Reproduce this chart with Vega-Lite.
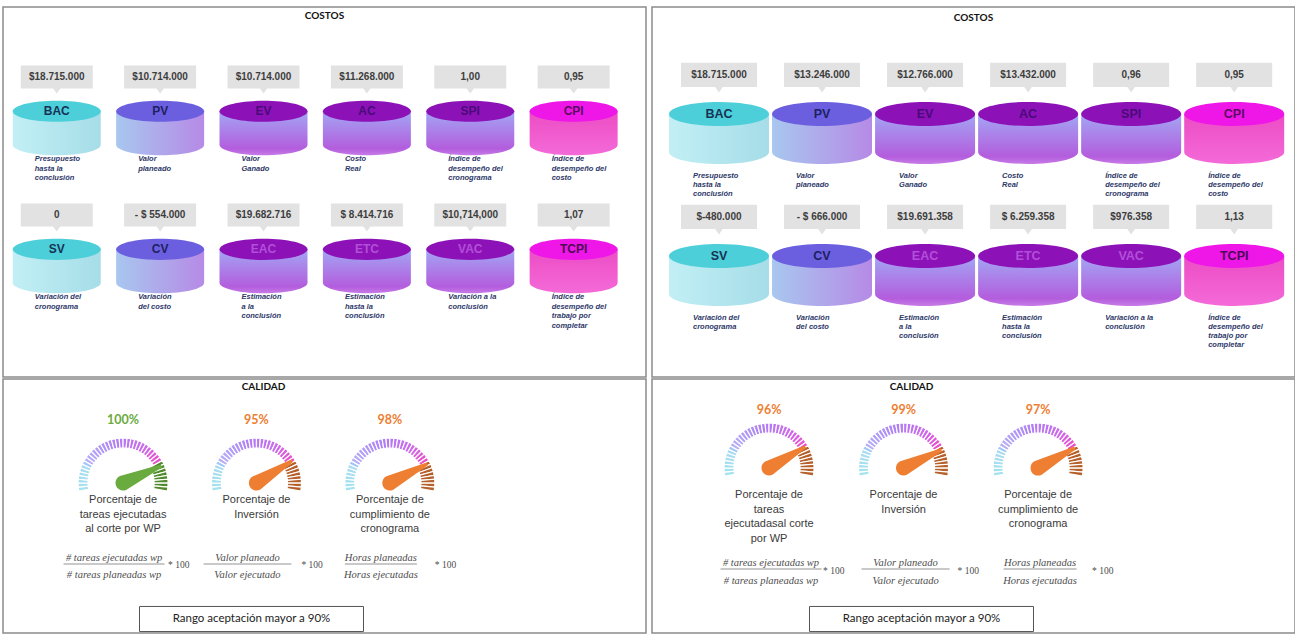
{
"$schema":"https://vega.github.io/schema/vega-lite/v6.json",
"background":"white",
"padding":{"left":2,"right":3,"top":6,"bottom":4},
"config":{"view":{"stroke":"#8c8c8c","strokeWidth":1.5}},
"datasets":{
"costosIzq":[
{"codigo":"BAC","fila":1,"col":1,"valor":"$18.715.000","desc":"Presupuesto\nhasta la\nconclusión"},
{"codigo":"PV","fila":1,"col":2,"valor":"$10.714.000","desc":"Valor\nplaneado"},
{"codigo":"EV","fila":1,"col":3,"valor":"$10.714.000","desc":"Valor\nGanado"},
{"codigo":"AC","fila":1,"col":4,"valor":"$11.268.000","desc":"Costo\nReal"},
{"codigo":"SPI","fila":1,"col":5,"valor":"1,00","desc":"Índice de\ndesempeño del\ncronograma"},
{"codigo":"CPI","fila":1,"col":6,"valor":"0,95","desc":"Índice de\ndesempeño del\ncosto"},
{"codigo":"SV","fila":2,"col":1,"valor":"0","desc":"Variación del\ncronograma"},
{"codigo":"CV","fila":2,"col":2,"valor":"- $ 554.000","desc":"Variación\ndel costo"},
{"codigo":"EAC","fila":2,"col":3,"valor":"$19.682.716","desc":"Estimación\na la\nconclusión"},
{"codigo":"ETC","fila":2,"col":4,"valor":"$ 8.414.716","desc":"Estimación\nhasta la\nconclusión"},
{"codigo":"VAC","fila":2,"col":5,"valor":"$10,714,000","desc":"Variación a la\nconclusión"},
{"codigo":"TCPI","fila":2,"col":6,"valor":"1,07","desc":"Índice de\ndesempeño del\ntrabajo por\ncompletar"}],
"costosDer":[
{"codigo":"BAC","fila":1,"col":1,"valor":"$18.715.000","desc":"Presupuesto\nhasta la\nconclusión"},
{"codigo":"PV","fila":1,"col":2,"valor":"$13.246.000","desc":"Valor\nplaneado"},
{"codigo":"EV","fila":1,"col":3,"valor":"$12.766.000","desc":"Valor\nGanado"},
{"codigo":"AC","fila":1,"col":4,"valor":"$13.432.000","desc":"Costo\nReal"},
{"codigo":"SPI","fila":1,"col":5,"valor":"0,96","desc":"Índice de\ndesempeño del\ncronograma"},
{"codigo":"CPI","fila":1,"col":6,"valor":"0,95","desc":"Índice de\ndesempeño del\ncosto"},
{"codigo":"SV","fila":2,"col":1,"valor":"$-480.000","desc":"Variación del\ncronograma"},
{"codigo":"CV","fila":2,"col":2,"valor":"- $ 666.000","desc":"Variación\ndel costo"},
{"codigo":"EAC","fila":2,"col":3,"valor":"$19.691.358","desc":"Estimación\na la\nconclusión"},
{"codigo":"ETC","fila":2,"col":4,"valor":"$ 6.259.358","desc":"Estimación\nhasta la\nconclusión"},
{"codigo":"VAC","fila":2,"col":5,"valor":"$976.358","desc":"Variación a la\nconclusión"},
{"codigo":"TCPI","fila":2,"col":6,"valor":"1,13","desc":"Índice de\ndesempeño del\ntrabajo por\ncompletar"}],
"calidadIzq":[
{"g":1,"pct":1.00,"nombre":"Porcentaje de\ntareas ejecutadas\nal corte por WP","num":"# tareas ejecutadas wp","den":"# tareas planeadas wp"},
{"g":2,"pct":0.95,"nombre":"Porcentaje de\nInversión","num":"Valor planeado","den":"Valor ejecutado"},
{"g":3,"pct":0.98,"nombre":"Porcentaje de\ncumplimiento de\ncronograma","num":"Horas planeadas","den":"Horas ejecutadas"}],
"calidadDer":[
{"g":1,"pct":0.96,"nombre":"Porcentaje de\ntareas\nejecutadasal corte\npor WP","num":"# tareas ejecutadas wp","den":"# tareas planeadas wp"},
{"g":2,"pct":0.99,"nombre":"Porcentaje de\nInversión","num":"Valor planeado","den":"Valor ejecutado"},
{"g":3,"pct":0.97,"nombre":"Porcentaje de\ncumplimiento de\ncronograma","num":"Horas planeadas","den":"Horas ejecutadas"}],
"marcas":[{"k":0},{"k":1},{"k":2},{"k":3},{"k":4},{"k":5},{"k":6},{"k":7},{"k":8},{"k":9},{"k":10},{"k":11},{"k":12},{"k":13},{"k":14},{"k":15},{"k":16},{"k":17},{"k":18},{"k":19},{"k":20},{"k":21},{"k":22},{"k":23},{"k":24},{"k":25},{"k":26},{"k":27},{"k":28},{"k":29},{"k":30},{"k":31},{"k":32},{"k":33},{"k":34},{"k":35},{"k":36},{"k":37},{"k":38},{"k":39}]
},
"spacing":4,
"resolve":{"scale":{"color":"independent","fill":"independent","size":"independent","angle":"independent","theta":"independent"}},
"hconcat":[
{"spacing":0,
 "resolve":{"scale":{"color":"independent","fill":"independent","size":"independent","angle":"independent","theta":"independent"}},
 "vconcat":[
 {"width":643,"height":370,
  "layer":[
   {"data":{"values":[{"titulo":"COSTOS"}]},"mark":{"type":"text","font":"Lato","fontWeight":"bold","fontSize":10,"fill":"#111111","dy":-176},"encoding":{"text":{"field":"titulo","type":"nominal"}}},
   {"data":{"name":"costosIzq"},
    "encoding":{"x":{"field":"col","type":"quantitative","scale":{"domain":[0.48,6.7],"nice":false,"zero":false},"axis":null},
                "y":{"field":"fila","type":"quantitative","scale":{"domain":[0.123,2.804],"nice":false,"zero":false,"reverse":true},"axis":null}},
    "layer":[
     {"mark":{"type":"point","shape":"M-1,-0.32 L1,-0.32 L1,0.32 L0.1,0.32 L0,0.46 L-0.1,0.32 L-1,0.32 Z","size":5184,"filled":true,"fill":"#e2e2e2","opacity":1,"strokeWidth":0,"yOffset":-51}},
     {"mark":{"type":"text","font":"Liberation Sans","fontWeight":"bold","fontSize":10,"fill":"#3d3d3d","baseline":"middle","dy":-51},"encoding":{"text":{"field":"valor","type":"nominal"}}},
     {"transform":[{"filter":{"field":"codigo","oneOf":["BAC","SV"]}}],"mark":{"type":"point","shape":"M-1,-0.38 L-1,0.38 A1,0.24 0 0 0 1,0.38 L1,-0.38 Z","size":7744,"filled":true,"opacity":1,"strokeWidth":0,"fill":{"gradient":"linear","x1":0,"y1":0,"x2":1,"y2":0,"stops":[{"offset":0,"color":"#c2eff5"},{"offset":1,"color":"#a6dde8"}]}}},
     {"transform":[{"filter":{"field":"codigo","oneOf":["PV","CV"]}}],"mark":{"type":"point","shape":"M-1,-0.38 L-1,0.38 A1,0.24 0 0 0 1,0.38 L1,-0.38 Z","size":7744,"filled":true,"opacity":1,"strokeWidth":0,"fill":{"gradient":"linear","x1":0,"y1":0,"x2":1,"y2":0,"stops":[{"offset":0,"color":"#a8c7ef"},{"offset":1,"color":"#b68ae6"}]}}},
     {"transform":[{"filter":{"field":"codigo","oneOf":["EV","AC","SPI","EAC","ETC","VAC"]}}],"mark":{"type":"point","shape":"M-1,-0.38 L-1,0.38 A1,0.24 0 0 0 1,0.38 L1,-0.38 Z","size":7744,"filled":true,"opacity":1,"strokeWidth":0,"fill":{"gradient":"linear","x1":0,"y1":0,"x2":0,"y2":1,"stops":[{"offset":0,"color":"#a3a6f4"},{"offset":0.85,"color":"#b35ddd"},{"offset":1,"color":"#c77be6"}]}}},
     {"transform":[{"filter":{"field":"codigo","oneOf":["CPI","TCPI"]}}],"mark":{"type":"point","shape":"M-1,-0.38 L-1,0.38 A1,0.24 0 0 0 1,0.38 L1,-0.38 Z","size":7744,"filled":true,"opacity":1,"strokeWidth":0,"fill":{"gradient":"linear","x1":0,"y1":0,"x2":0,"y2":1,"stops":[{"offset":0,"color":"#ec4cc4"},{"offset":1,"color":"#f46ad8"}]}}},
     {"mark":{"type":"point","shape":"M-1,-0.38 A1,0.24 0 1 1 1,-0.38 A1,0.24 0 1 1 -1,-0.38 Z","size":7744,"filled":true,"opacity":1,"strokeWidth":0},
      "encoding":{"fill":{"field":"codigo","type":"nominal","scale":{"domain":["BAC","PV","EV","AC","SPI","CPI","SV","CV","EAC","ETC","VAC","TCPI"],"range":["#4ccfd8","#6b5fe0","#8c12b8","#8c12b8","#8c12b8","#ef16e8","#4ccfd8","#6b5fe0","#8c12b8","#8c12b8","#8c12b8","#ef16e8"]},"legend":null}}},
     {"mark":{"type":"text","font":"Liberation Sans","fontWeight":"bold","fontSize":12,"baseline":"middle","dy":-17},
      "encoding":{"text":{"field":"codigo","type":"nominal"},"color":{"field":"codigo","type":"nominal","scale":{"domain":["BAC","PV","EV","AC","SPI","CPI","SV","CV","EAC","ETC","VAC","TCPI"],"range":["#173257","#1d2160","#4a0a78","#4a0a78","#4a0a78","#5c0b62","#173257","#1d2160","#b24fd8","#b24fd8","#b24fd8","#4d0a55"]},"legend":null}}},
     {"mark":{"type":"text","font":"Liberation Sans","fontWeight":"bold","fontStyle":"italic","fontSize":7.5,"fill":"#2d3868","align":"left","baseline":"top","dx":-22,"dy":27,"lineBreak":"\n","lineHeight":9.5},"encoding":{"text":{"field":"desc","type":"nominal"}}}
    ]}
  ]},
 {"width":643,"height":254,
  "layer":[
   {"data":{"values":[{"titulo":"CALIDAD"}]},"mark":{"type":"text","font":"Lato","fontWeight":"bold","fontSize":10,"fill":"#111111","dx":-61,"dy":-119},"encoding":{"text":{"field":"titulo","type":"nominal"}}},
   {"data":{"name":"marcas"},"transform":[{"filter":"datum.k < 32"},{"bin":{"step":1,"extent":[0,40]},"field":"k","as":["k0","k1"]}],
    "mark":{"type":"arc","outerRadius":45,"innerRadius":35,"stroke":"#ffffff","strokeWidth":1.2,"yOffset":-23},
    "encoding":{"x":{"datum":1,"type":"quantitative","scale":{"domain":[0.1,4.92],"nice":false,"zero":false},"axis":null},
      "theta":{"field":"k0","type":"quantitative","scale":{"domain":[0,40],"range":[-1.75,1.75]},"stack":null},"theta2":{"field":"k1"},
      "color":{"field":"k","type":"quantitative","scale":{"domain":[0,6,8,18,26,31],"range":["#a3e2ee","#a9dcf1","#b7aef6","#b07df3","#cf68ea","#e84fcb"]},"legend":null}}},
   {"data":{"name":"marcas"},"transform":[{"filter":"datum.k < 32"},{"bin":{"step":1,"extent":[0,40]},"field":"k","as":["k0","k1"]}],
    "mark":{"type":"arc","outerRadius":45,"innerRadius":35,"stroke":"#ffffff","strokeWidth":1.2,"yOffset":-23},
    "encoding":{"x":{"datum":2,"type":"quantitative","scale":{"domain":[0.1,4.92],"nice":false,"zero":false},"axis":null},
      "theta":{"field":"k0","type":"quantitative","scale":{"domain":[0,40],"range":[-1.75,1.75]},"stack":null},"theta2":{"field":"k1"},
      "color":{"field":"k","type":"quantitative","scale":{"domain":[0,6,8,18,26,31],"range":["#a3e2ee","#a9dcf1","#b7aef6","#b07df3","#cf68ea","#e84fcb"]},"legend":null}}},
   {"data":{"name":"marcas"},"transform":[{"filter":"datum.k < 32"},{"bin":{"step":1,"extent":[0,40]},"field":"k","as":["k0","k1"]}],
    "mark":{"type":"arc","outerRadius":45,"innerRadius":35,"stroke":"#ffffff","strokeWidth":1.2,"yOffset":-23},
    "encoding":{"x":{"datum":3,"type":"quantitative","scale":{"domain":[0.1,4.92],"nice":false,"zero":false},"axis":null},
      "theta":{"field":"k0","type":"quantitative","scale":{"domain":[0,40],"range":[-1.75,1.75]},"stack":null},"theta2":{"field":"k1"},
      "color":{"field":"k","type":"quantitative","scale":{"domain":[0,6,8,18,26,31],"range":["#a3e2ee","#a9dcf1","#b7aef6","#b07df3","#cf68ea","#e84fcb"]},"legend":null}}},
   {"data":{"name":"marcas"},"transform":[{"filter":"datum.k >= 32"},{"bin":{"step":1,"extent":[0,40]},"field":"k","as":["k0","k1"]}],
    "mark":{"type":"arc","outerRadius":45,"innerRadius":31,"fill":"#4f8a2b","stroke":"#ffffff","strokeWidth":1.2,"yOffset":-23},
    "encoding":{"x":{"datum":1,"type":"quantitative","scale":{"domain":[0.1,4.92],"nice":false,"zero":false},"axis":null},
      "theta":{"field":"k0","type":"quantitative","scale":{"domain":[0,40],"range":[-1.75,1.75]},"stack":null},"theta2":{"field":"k1"}}},
   {"data":{"name":"marcas"},"transform":[{"filter":"datum.k >= 32"},{"bin":{"step":1,"extent":[0,40]},"field":"k","as":["k0","k1"]}],
    "mark":{"type":"arc","outerRadius":45,"innerRadius":31,"fill":"#b5602b","stroke":"#ffffff","strokeWidth":1.2,"yOffset":-23},
    "encoding":{"x":{"datum":2,"type":"quantitative","scale":{"domain":[0.1,4.92],"nice":false,"zero":false},"axis":null},
      "theta":{"field":"k0","type":"quantitative","scale":{"domain":[0,40],"range":[-1.75,1.75]},"stack":null},"theta2":{"field":"k1"}}},
   {"data":{"name":"marcas"},"transform":[{"filter":"datum.k >= 32"},{"bin":{"step":1,"extent":[0,40]},"field":"k","as":["k0","k1"]}],
    "mark":{"type":"arc","outerRadius":45,"innerRadius":31,"fill":"#b5602b","stroke":"#ffffff","strokeWidth":1.2,"yOffset":-23},
    "encoding":{"x":{"datum":3,"type":"quantitative","scale":{"domain":[0.1,4.92],"nice":false,"zero":false},"axis":null},
      "theta":{"field":"k0","type":"quantitative","scale":{"domain":[0,40],"range":[-1.75,1.75]},"stack":null},"theta2":{"field":"k1"}}},
   {"data":{"name":"calidadIzq"},
    "encoding":{"x":{"field":"g","type":"quantitative","scale":{"domain":[0.1,4.92],"nice":false,"zero":false},"axis":null}},
    "layer":[
     {"mark":{"type":"point","shape":"M-0.18,0 A0.18,0.18 0 0 0 0.18,0 L0.035,-1 L-0.035,-1 Z","size":7056,"filled":true,"opacity":1,"strokeWidth":0,"yOffset":-23},
      "encoding":{"angle":{"field":"pct","type":"quantitative","scale":{"domain":[0,1],"range":[-90,66]}},
        "fill":{"field":"pct","type":"quantitative","scale":{"type":"threshold","domain":[0.995],"range":["#ee7e32","#6aab3f"]},"legend":null}}},
     {"mark":{"type":"text","font":"Lato","fontWeight":"bold","fontSize":12.5,"baseline":"middle","dy":-86},
      "encoding":{"text":{"field":"pct","type":"quantitative","format":".0%"},
        "fill":{"field":"pct","type":"quantitative","scale":{"type":"threshold","domain":[0.995],"range":["#ee7e32","#6aab3f"]},"legend":null}}},
     {"mark":{"type":"text","font":"Liberation Sans","fontSize":11,"fill":"#3a3a3a","baseline":"top","dy":-12,"lineBreak":"\n","lineHeight":14.5},"encoding":{"text":{"field":"nombre","type":"nominal"}}},
     {"mark":{"type":"text","font":"Liberation Serif","fontStyle":"italic","fontSize":10.5,"fill":"#4d4d4d","baseline":"middle","dx":-9,"dy":52},"encoding":{"text":{"field":"num","type":"nominal"}}},
     {"mark":{"type":"point","shape":"M-1,0 L1,0","filled":false,"stroke":"#666666","strokeWidth":0.7,"opacity":1,"xOffset":-9,"yOffset":58},
      "encoding":{"size":{"field":"g","type":"ordinal","scale":{"domain":[1,2,3],"range":[10201,5184,6889]},"legend":null}}},
     {"mark":{"type":"text","font":"Liberation Serif","fontStyle":"italic","fontSize":10.5,"fill":"#4d4d4d","baseline":"middle","dx":-9,"dy":69},"encoding":{"text":{"field":"den","type":"nominal"}}},
     {"mark":{"type":"text","text":"* 100","font":"Liberation Serif","fontSize":9.5,"fill":"#4d4d4d","align":"left","baseline":"middle","dx":45,"dy":59},"encoding":{}}
    ]},
   {"data":{"values":[{"texto":"Rango aceptación mayor a 90%"}]},
    "layer":[
     {"mark":{"type":"point","shape":"M-1,-0.112 L1,-0.112 L1,0.112 L-1,0.112 Z","size":50176,"filled":true,"fill":"#ffffff","stroke":"#555555","strokeWidth":1,"opacity":1,"xOffset":-73,"yOffset":113},"encoding":{}},
     {"mark":{"type":"text","font":"Lato","fontSize":11.5,"fill":"#222222","baseline":"middle","dx":-73,"dy":113},"encoding":{"text":{"field":"texto","type":"nominal"}}}
    ]}
  ]}
 ]},
{"spacing":0,
 "resolve":{"scale":{"color":"independent","fill":"independent","size":"independent","angle":"independent","theta":"independent"}},
 "vconcat":[
 {"width":643,"height":370,
  "layer":[
   {"data":{"values":[{"titulo":"COSTOS"}]},"mark":{"type":"text","font":"Lato","fontWeight":"bold","fontSize":10,"fill":"#111111","dy":-174},"encoding":{"text":{"field":"titulo","type":"nominal"}}},
   {"data":{"name":"costosDer"},
    "encoding":{"x":{"field":"col","type":"quantitative","scale":{"domain":[0.35,6.59],"nice":false,"zero":false},"axis":null},
                "y":{"field":"fila","type":"quantitative","scale":{"domain":[0.113,2.719],"nice":false,"zero":false,"reverse":true},"axis":null}},
    "layer":[
     {"mark":{"type":"point","shape":"M-1,-0.32 L1,-0.32 L1,0.32 L0.1,0.32 L0,0.46 L-0.1,0.32 L-1,0.32 Z","size":5776,"filled":true,"fill":"#e2e2e2","opacity":1,"strokeWidth":0,"yOffset":-58}},
     {"mark":{"type":"text","font":"Liberation Sans","fontWeight":"bold","fontSize":10,"fill":"#3d3d3d","baseline":"middle","dy":-58},"encoding":{"text":{"field":"valor","type":"nominal"}}},
     {"transform":[{"filter":{"field":"codigo","oneOf":["BAC","SV"]}}],"mark":{"type":"point","shape":"M-1,-0.38 L-1,0.38 A1,0.24 0 0 0 1,0.38 L1,-0.38 Z","size":10000,"filled":true,"opacity":1,"strokeWidth":0,"fill":{"gradient":"linear","x1":0,"y1":0,"x2":1,"y2":0,"stops":[{"offset":0,"color":"#c2eff5"},{"offset":1,"color":"#a6dde8"}]}}},
     {"transform":[{"filter":{"field":"codigo","oneOf":["PV","CV"]}}],"mark":{"type":"point","shape":"M-1,-0.38 L-1,0.38 A1,0.24 0 0 0 1,0.38 L1,-0.38 Z","size":10000,"filled":true,"opacity":1,"strokeWidth":0,"fill":{"gradient":"linear","x1":0,"y1":0,"x2":1,"y2":0,"stops":[{"offset":0,"color":"#a8c7ef"},{"offset":1,"color":"#b68ae6"}]}}},
     {"transform":[{"filter":{"field":"codigo","oneOf":["EV","AC","SPI","EAC","ETC","VAC"]}}],"mark":{"type":"point","shape":"M-1,-0.38 L-1,0.38 A1,0.24 0 0 0 1,0.38 L1,-0.38 Z","size":10000,"filled":true,"opacity":1,"strokeWidth":0,"fill":{"gradient":"linear","x1":0,"y1":0,"x2":0,"y2":1,"stops":[{"offset":0,"color":"#a3a6f4"},{"offset":0.85,"color":"#b35ddd"},{"offset":1,"color":"#c77be6"}]}}},
     {"transform":[{"filter":{"field":"codigo","oneOf":["CPI","TCPI"]}}],"mark":{"type":"point","shape":"M-1,-0.38 L-1,0.38 A1,0.24 0 0 0 1,0.38 L1,-0.38 Z","size":10000,"filled":true,"opacity":1,"strokeWidth":0,"fill":{"gradient":"linear","x1":0,"y1":0,"x2":0,"y2":1,"stops":[{"offset":0,"color":"#ec4cc4"},{"offset":1,"color":"#f46ad8"}]}}},
     {"mark":{"type":"point","shape":"M-1,-0.38 A1,0.24 0 1 1 1,-0.38 A1,0.24 0 1 1 -1,-0.38 Z","size":10000,"filled":true,"opacity":1,"strokeWidth":0},
      "encoding":{"fill":{"field":"codigo","type":"nominal","scale":{"domain":["BAC","PV","EV","AC","SPI","CPI","SV","CV","EAC","ETC","VAC","TCPI"],"range":["#4ccfd8","#6b5fe0","#8c12b8","#8c12b8","#8c12b8","#ef16e8","#4ccfd8","#6b5fe0","#8c12b8","#8c12b8","#8c12b8","#ef16e8"]},"legend":null}}},
     {"mark":{"type":"text","font":"Liberation Sans","fontWeight":"bold","fontSize":12.5,"baseline":"middle","dy":-19},
      "encoding":{"text":{"field":"codigo","type":"nominal"},"color":{"field":"codigo","type":"nominal","scale":{"domain":["BAC","PV","EV","AC","SPI","CPI","SV","CV","EAC","ETC","VAC","TCPI"],"range":["#173257","#1d2160","#4a0a78","#4a0a78","#4a0a78","#5c0b62","#173257","#1d2160","#b24fd8","#b24fd8","#b24fd8","#4d0a55"]},"legend":null}}},
     {"mark":{"type":"text","font":"Liberation Sans","fontWeight":"bold","fontStyle":"italic","fontSize":7.5,"fill":"#2d3868","align":"left","baseline":"top","dx":-26,"dy":39,"lineBreak":"\n","lineHeight":9},"encoding":{"text":{"field":"desc","type":"nominal"}}}
    ]}
  ]},
 {"width":643,"height":254,
  "layer":[
   {"data":{"values":[{"titulo":"CALIDAD"}]},"mark":{"type":"text","font":"Lato","fontWeight":"bold","fontSize":10,"fill":"#111111","dx":-62,"dy":-119},"encoding":{"text":{"field":"titulo","type":"nominal"}}},
   {"data":{"name":"marcas"},"transform":[{"filter":"datum.k < 32"},{"bin":{"step":1,"extent":[0,40]},"field":"k","as":["k0","k1"]}],
    "mark":{"type":"arc","outerRadius":45,"innerRadius":35,"stroke":"#ffffff","strokeWidth":1.2,"yOffset":-38},
    "encoding":{"x":{"datum":1,"type":"quantitative","scale":{"domain":[0.13,4.91],"nice":false,"zero":false},"axis":null},
      "theta":{"field":"k0","type":"quantitative","scale":{"domain":[0,40],"range":[-1.75,1.75]},"stack":null},"theta2":{"field":"k1"},
      "color":{"field":"k","type":"quantitative","scale":{"domain":[0,6,8,18,26,31],"range":["#a3e2ee","#a9dcf1","#b7aef6","#b07df3","#cf68ea","#e84fcb"]},"legend":null}}},
   {"data":{"name":"marcas"},"transform":[{"filter":"datum.k < 32"},{"bin":{"step":1,"extent":[0,40]},"field":"k","as":["k0","k1"]}],
    "mark":{"type":"arc","outerRadius":45,"innerRadius":35,"stroke":"#ffffff","strokeWidth":1.2,"yOffset":-38},
    "encoding":{"x":{"datum":2,"type":"quantitative","scale":{"domain":[0.13,4.91],"nice":false,"zero":false},"axis":null},
      "theta":{"field":"k0","type":"quantitative","scale":{"domain":[0,40],"range":[-1.75,1.75]},"stack":null},"theta2":{"field":"k1"},
      "color":{"field":"k","type":"quantitative","scale":{"domain":[0,6,8,18,26,31],"range":["#a3e2ee","#a9dcf1","#b7aef6","#b07df3","#cf68ea","#e84fcb"]},"legend":null}}},
   {"data":{"name":"marcas"},"transform":[{"filter":"datum.k < 32"},{"bin":{"step":1,"extent":[0,40]},"field":"k","as":["k0","k1"]}],
    "mark":{"type":"arc","outerRadius":45,"innerRadius":35,"stroke":"#ffffff","strokeWidth":1.2,"yOffset":-38},
    "encoding":{"x":{"datum":3,"type":"quantitative","scale":{"domain":[0.13,4.91],"nice":false,"zero":false},"axis":null},
      "theta":{"field":"k0","type":"quantitative","scale":{"domain":[0,40],"range":[-1.75,1.75]},"stack":null},"theta2":{"field":"k1"},
      "color":{"field":"k","type":"quantitative","scale":{"domain":[0,6,8,18,26,31],"range":["#a3e2ee","#a9dcf1","#b7aef6","#b07df3","#cf68ea","#e84fcb"]},"legend":null}}},
   {"data":{"name":"marcas"},"transform":[{"filter":"datum.k >= 32"},{"bin":{"step":1,"extent":[0,40]},"field":"k","as":["k0","k1"]}],
    "mark":{"type":"arc","outerRadius":45,"innerRadius":31,"fill":"#b5602b","stroke":"#ffffff","strokeWidth":1.2,"yOffset":-38},
    "encoding":{"x":{"datum":1,"type":"quantitative","scale":{"domain":[0.13,4.91],"nice":false,"zero":false},"axis":null},
      "theta":{"field":"k0","type":"quantitative","scale":{"domain":[0,40],"range":[-1.75,1.75]},"stack":null},"theta2":{"field":"k1"}}},
   {"data":{"name":"marcas"},"transform":[{"filter":"datum.k >= 32"},{"bin":{"step":1,"extent":[0,40]},"field":"k","as":["k0","k1"]}],
    "mark":{"type":"arc","outerRadius":45,"innerRadius":31,"fill":"#b5602b","stroke":"#ffffff","strokeWidth":1.2,"yOffset":-38},
    "encoding":{"x":{"datum":2,"type":"quantitative","scale":{"domain":[0.13,4.91],"nice":false,"zero":false},"axis":null},
      "theta":{"field":"k0","type":"quantitative","scale":{"domain":[0,40],"range":[-1.75,1.75]},"stack":null},"theta2":{"field":"k1"}}},
   {"data":{"name":"marcas"},"transform":[{"filter":"datum.k >= 32"},{"bin":{"step":1,"extent":[0,40]},"field":"k","as":["k0","k1"]}],
    "mark":{"type":"arc","outerRadius":45,"innerRadius":31,"fill":"#b5602b","stroke":"#ffffff","strokeWidth":1.2,"yOffset":-38},
    "encoding":{"x":{"datum":3,"type":"quantitative","scale":{"domain":[0.13,4.91],"nice":false,"zero":false},"axis":null},
      "theta":{"field":"k0","type":"quantitative","scale":{"domain":[0,40],"range":[-1.75,1.75]},"stack":null},"theta2":{"field":"k1"}}},
   {"data":{"name":"calidadDer"},
    "encoding":{"x":{"field":"g","type":"quantitative","scale":{"domain":[0.13,4.91],"nice":false,"zero":false},"axis":null}},
    "layer":[
     {"mark":{"type":"point","shape":"M-0.18,0 A0.18,0.18 0 0 0 0.18,0 L0.035,-1 L-0.035,-1 Z","size":7056,"filled":true,"opacity":1,"strokeWidth":0,"yOffset":-38},
      "encoding":{"angle":{"field":"pct","type":"quantitative","scale":{"domain":[0,1],"range":[-90,66]}},
        "fill":{"field":"pct","type":"quantitative","scale":{"type":"threshold","domain":[0.995],"range":["#ee7e32","#6aab3f"]},"legend":null}}},
     {"mark":{"type":"text","font":"Lato","fontWeight":"bold","fontSize":12.5,"baseline":"middle","dy":-96},
      "encoding":{"text":{"field":"pct","type":"quantitative","format":".0%"},
        "fill":{"field":"pct","type":"quantitative","scale":{"type":"threshold","domain":[0.995],"range":["#ee7e32","#6aab3f"]},"legend":null}}},
     {"mark":{"type":"text","font":"Liberation Sans","fontSize":11,"fill":"#3a3a3a","baseline":"top","dy":-17,"lineBreak":"\n","lineHeight":14.5},"encoding":{"text":{"field":"nombre","type":"nominal"}}},
     {"mark":{"type":"text","font":"Liberation Serif","fontStyle":"italic","fontSize":10.5,"fill":"#4d4d4d","baseline":"middle","dx":2,"dy":57},"encoding":{"text":{"field":"num","type":"nominal"}}},
     {"mark":{"type":"point","shape":"M-1,0 L1,0","filled":false,"stroke":"#666666","strokeWidth":0.7,"opacity":1,"xOffset":2,"yOffset":63},
      "encoding":{"size":{"field":"g","type":"ordinal","scale":{"domain":[1,2,3],"range":[10201,5329,6400]},"legend":null}}},
     {"mark":{"type":"text","font":"Liberation Serif","fontStyle":"italic","fontSize":10.5,"fill":"#4d4d4d","baseline":"middle","dx":2,"dy":75},"encoding":{"text":{"field":"den","type":"nominal"}}},
     {"mark":{"type":"text","text":"* 100","font":"Liberation Serif","fontSize":9.5,"fill":"#4d4d4d","align":"left","baseline":"middle","dx":54,"dy":65},"encoding":{}}
    ]},
   {"data":{"values":[{"texto":"Rango aceptación mayor a 90%"}]},
    "layer":[
     {"mark":{"type":"point","shape":"M-1,-0.112 L1,-0.112 L1,0.112 L-1,0.112 Z","size":50176,"filled":true,"fill":"#ffffff","stroke":"#555555","strokeWidth":1,"opacity":1,"xOffset":-52,"yOffset":113},"encoding":{}},
     {"mark":{"type":"text","font":"Lato","fontSize":11.5,"fill":"#222222","baseline":"middle","dx":-52,"dy":113},"encoding":{"text":{"field":"texto","type":"nominal"}}}
    ]}
  ]}
 ]}
]
}
